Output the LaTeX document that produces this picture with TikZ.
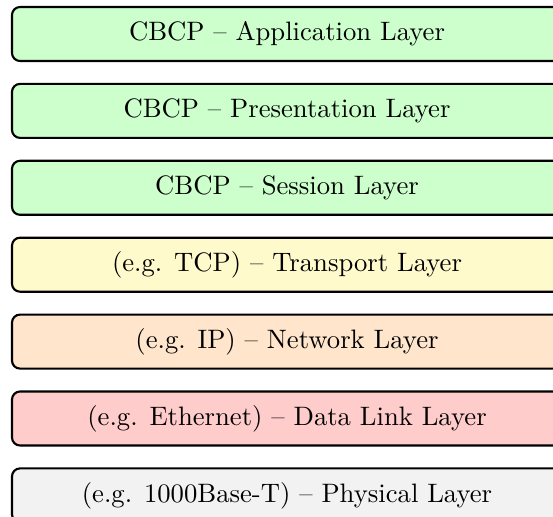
\documentclass[tikz,border=0pt]{standalone}
\usetikzlibrary{positioning}
\definecolor{appgreen}{HTML}{CCFFCC}
\definecolor{transyellow}{HTML}{FFFACC}
\definecolor{netorange}{HTML}{FFE5CC}
\definecolor{linkred}{HTML}{FFCCCC}
\definecolor{physgrey}{HTML}{F2F2F2}
\tikzset{
  layerbox/.style={draw=black, line width=0.8pt, rounded corners=3pt,
    minimum width=206.25pt, minimum height=20.25pt, inner sep=0pt,
    anchor=center, fill=#1},
}
\begin{document}
\begin{tikzpicture}[x=0.375pt, y=-0.375pt]
  \useasboundingbox (0,0) rectangle (553,517);
  \clip (0,0) rectangle (553,517);
  \node[layerbox=appgreen]    (app)  at (287,34)    {CBCP -- Application Layer};
  \node[layerbox=appgreen]    (pres) at (287,110.9) {CBCP -- Presentation Layer};
  \node[layerbox=appgreen]    (sess) at (287,187.8) {CBCP -- Session Layer};
  \node[layerbox=transyellow] (tran) at (287,264.7) {(e.g. TCP) -- Transport Layer};
  \node[layerbox=netorange]   (net)  at (287,341.6) {(e.g. IP) -- Network Layer};
  \node[layerbox=linkred]     (link) at (287,418.5) {(e.g. Ethernet) -- Data Link Layer};
  \node[layerbox=physgrey]    (phys) at (287,495.4) {(e.g. 1000Base-T) -- Physical Layer};
\end{tikzpicture}
\end{document}
